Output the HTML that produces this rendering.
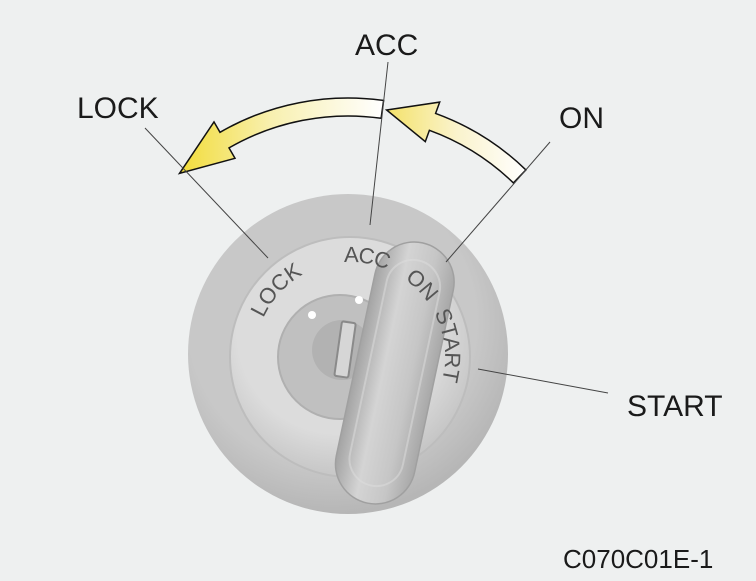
<!DOCTYPE html>
<html><head><meta charset="utf-8"><style>
html,body{margin:0;padding:0;background:#eef0f0;}
svg{display:block;}
</style></head><body>
<svg width="756" height="581" viewBox="0 0 756 581" xmlns="http://www.w3.org/2000/svg" font-family="Liberation Sans, Arial, sans-serif">
<defs>
<linearGradient id="ga" x1="180" y1="0" x2="383" y2="0" gradientUnits="userSpaceOnUse">
<stop offset="0" stop-color="#f2dc3a"/><stop offset="0.45" stop-color="#f8f0b0"/><stop offset="1" stop-color="#ffffff"/></linearGradient>
<linearGradient id="gb" x1="387" y1="0" x2="526" y2="0" gradientUnits="userSpaceOnUse">
<stop offset="0" stop-color="#f4e26a"/><stop offset="0.5" stop-color="#faf3cc"/><stop offset="1" stop-color="#ffffff"/></linearGradient>
<radialGradient id="go" cx="0.45" cy="0.4" r="0.6"><stop offset="0.75" stop-color="#c8c8c8"/><stop offset="1" stop-color="#b6b6b6"/></radialGradient>
<radialGradient id="gm" cx="0.45" cy="0.4" r="0.6"><stop offset="0.7" stop-color="#dcdcdc"/><stop offset="1" stop-color="#c6c6c6"/></radialGradient>
<linearGradient id="gk" x1="0" y1="0" x2="1" y2="0"><stop offset="0" stop-color="#a4a4a4"/><stop offset="0.35" stop-color="#d4d4d4"/><stop offset="0.7" stop-color="#c6c6c6"/><stop offset="1" stop-color="#a8a8a8"/></linearGradient>
<path id="ring" d="M255,357 A95,95 0 1 1 445,357 A95,95 0 1 1 255,357"/>
</defs>
<rect width="756" height="581" fill="#eef0f0"/>

<circle cx="348" cy="354" r="160" fill="url(#go)"/>
<circle cx="350" cy="357" r="120" fill="url(#gm)" stroke="#bdbdbd" stroke-width="2"/>
<circle cx="340" cy="357" r="62" fill="#c0c0c0" stroke="#b0b0b0" stroke-width="2"/>
<circle cx="342" cy="350" r="30" fill="#b2b2b2"/>
<rect x="338" y="322" width="14" height="55" rx="2" fill="#d6d6d6" stroke="#8a8a8a" stroke-width="2" transform="rotate(8 345 350)"/>
<circle cx="312" cy="315" r="4" fill="#fff"/>
<circle cx="359" cy="300" r="4" fill="#fff"/>

<g transform="rotate(12 395 372)">
<rect x="355" y="240" width="80" height="266" rx="40" fill="url(#gk)" stroke="#a0a0a0" stroke-width="1.5"/>
<rect x="368" y="258" width="54" height="230" rx="27" fill="none" stroke="#dedede" stroke-width="2" opacity="0.5"/>
</g>

<g font-size="22" fill="#555">
<text><textPath href="#ring" startOffset="40">LOCK</textPath></text>
<text><textPath href="#ring" startOffset="143" letter-spacing="-1">ACC</textPath></text>
<text><textPath href="#ring" startOffset="207">ON</textPath></text>
<text><textPath href="#ring" startOffset="252">START</textPath></text>
</g>

<path d="M383.6,100.5 A256,256 0 0 0 220,132.3 L214,121.9 L179.5,173.4 L235,158.3 L229,147.9 A238,238 0 0 1 381.1,118.3 Z" fill="url(#ga)" stroke="#111" stroke-width="1.5"/>
<path d="M525.9,169.9 A256,256 0 0 0 435.6,113.4 L439.7,102.1 L386.6,110 L425.3,141.6 L429.4,130.3 A238,238 0 0 1 513.4,182.9 Z" fill="url(#gb)" stroke="#111" stroke-width="1.5"/>

<g stroke="#444" stroke-width="1" fill="none">
<line x1="145" y1="128" x2="268" y2="258"/>
<line x1="388" y1="62" x2="370" y2="225"/>
<line x1="550" y1="142" x2="446" y2="262"/>
<line x1="608" y1="393" x2="478" y2="369"/>
</g>

<g font-size="30" fill="#1a1a1a">
<text x="77" y="118">LOCK</text>
<text x="355" y="55">ACC</text>
<text x="559" y="128">ON</text>
<text x="627" y="416">START</text>
<text x="563" y="568" font-size="26">C070C01E-1</text>
</g>
</svg>
</body></html>
